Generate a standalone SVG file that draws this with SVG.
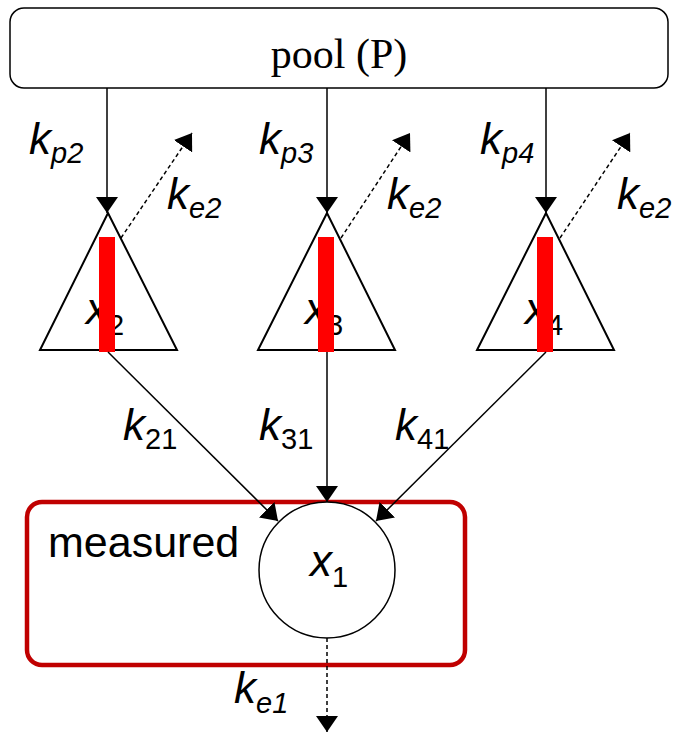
<svg xmlns="http://www.w3.org/2000/svg" width="674" height="736" viewBox="0 0 674 736">
<style>
.k{font-family:"Liberation Sans",Arial,sans-serif;font-style:italic;font-size:44px;fill:#000}
.s{font-size:29px}
.up{font-style:normal}
.tri{fill:#fff;stroke:#000;stroke-width:2}
.bar{fill:#ff0000}
.ln{stroke:#000;stroke-width:1.5;fill:none}
.dash{stroke:#000;stroke-width:1.5;stroke-dasharray:4 3;fill:none}
</style>
<defs>
<marker id="ah" viewBox="0 0 16 22" refX="16" refY="11" markerWidth="16" markerHeight="22" markerUnits="userSpaceOnUse" orient="auto">
<path d="M0,0 L16,11 L0,22 z" fill="#000"/>
</marker>
</defs>
<rect width="674" height="736" fill="#fff"/>
<g id="pool">
<rect x="10" y="8" width="658" height="80" rx="14" fill="#fff" stroke="#000" stroke-width="1.5"/>
<text x="339" y="68" text-anchor="middle" font-family="Liberation Serif,'Times New Roman',serif" font-size="42">pool (P)</text>
</g>
<g id="measured">
<rect x="27" y="502" width="438" height="163" rx="15" fill="none" stroke="#c00000" stroke-width="4.5"/>
<text x="48" y="557" font-family="Liberation Sans,Arial,sans-serif" font-size="43">measured</text>
</g>
<g id="x1">
<circle cx="327" cy="570" r="68" fill="#fff" stroke="#000" stroke-width="1.5"/>
<text class="k" x="310" y="576">x<tspan class="s up" dy="11">1</tspan></text>
</g>
<g id="x2">
<polygon class="tri" points="108,213 40,350 177,350"/>
<text class="k" x="86" y="324">x<tspan class="s up" dy="11">2</tspan></text>
<rect class="bar" x="99" y="237" width="16" height="115"/>
</g>
<g id="x3">
<polygon class="tri" points="327,213 258,350 395,350"/>
<text class="k" x="305" y="324">x<tspan class="s up" dy="11">3</tspan></text>
<rect class="bar" x="318" y="237" width="16" height="115"/>
</g>
<g id="x4">
<polygon class="tri" points="546,213 477,350 614,350"/>
<text class="k" x="525" y="324">x<tspan class="s up" dy="11">4</tspan></text>
<rect class="bar" x="537" y="237" width="16" height="115"/>
</g>
<g id="connectors">
<line class="ln" x1="107" y1="88" x2="107" y2="213" marker-end="url(#ah)"/>
<line class="ln" x1="327" y1="88" x2="327" y2="213" marker-end="url(#ah)"/>
<line class="ln" x1="546" y1="88" x2="546" y2="213" marker-end="url(#ah)"/>
<line class="dash" x1="121" y1="238" x2="192" y2="133" marker-end="url(#ah)"/>
<line class="dash" x1="341" y1="238" x2="410" y2="133" marker-end="url(#ah)"/>
<line class="dash" x1="560" y1="238" x2="630" y2="133" marker-end="url(#ah)"/>
<line class="ln" x1="108" y1="352" x2="278" y2="521" marker-end="url(#ah)"/>
<line class="ln" x1="327" y1="352" x2="327" y2="502" marker-end="url(#ah)"/>
<line class="ln" x1="546" y1="352" x2="376" y2="521" marker-end="url(#ah)"/>
<line class="dash" x1="327" y1="638" x2="327" y2="732" marker-end="url(#ah)"/>
</g>
<g id="labels">
<text class="k" x="29" y="154">k<tspan class="s" dy="9">p2</tspan></text>
<text class="k" x="259" y="154">k<tspan class="s" dy="9">p3</tspan></text>
<text class="k" x="480" y="154">k<tspan class="s" dy="9">p4</tspan></text>
<text class="k" x="167" y="209">k<tspan class="s" dy="9">e2</tspan></text>
<text class="k" x="387" y="209">k<tspan class="s" dy="9">e2</tspan></text>
<text class="k" x="617" y="209">k<tspan class="s" dy="9">e2</tspan></text>
<text class="k" x="123" y="440">k<tspan class="s up" dy="9">21</tspan></text>
<text class="k" x="259" y="440">k<tspan class="s up" dy="9">31</tspan></text>
<text class="k" x="395" y="440">k<tspan class="s up" dy="9">41</tspan></text>
<text class="k" x="234" y="703">k<tspan class="s" dy="10">e1</tspan></text>
</g>
</svg>
